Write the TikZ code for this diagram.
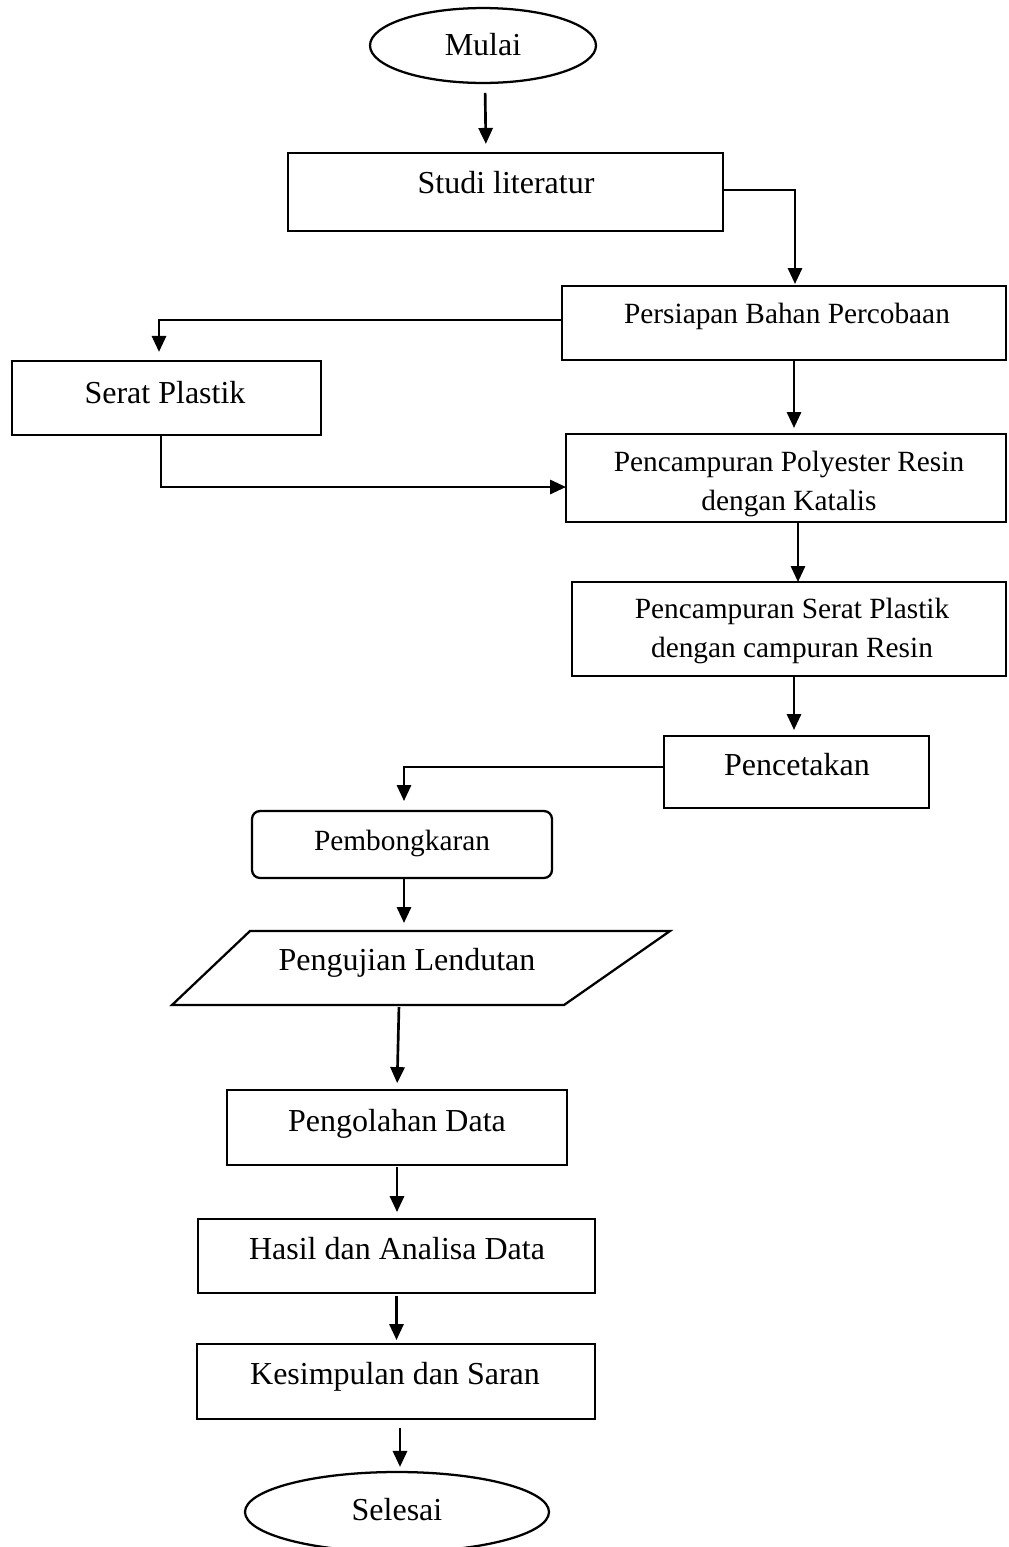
\documentclass[tikz,border=0pt]{standalone}
\usepackage{fontspec}
\setmainfont{Liberation Serif}
\usetikzlibrary{arrows.meta,calc,shapes.geometric}
\begin{document}
\begin{tikzpicture}[x=0.375pt,y=-0.375pt,
  line width=0.85pt,
  box/.style={draw, rectangle, inner sep=0pt, outer sep=0pt},
  term/.style={draw, ellipse, inner sep=0pt, outer sep=0pt},
  lbl/.style={inner sep=0pt, anchor=base, font=\fontsize{12}{14}\selectfont},
  lbls/.style={inner sep=0pt, anchor=base, font=\fontsize{11}{13}\selectfont},
  lbltwo/.style={inner sep=0pt, anchor=center, align=center, font=\fontsize{11}{14.4}\selectfont},
  arr/.style={line width=1pt, -{Triangle[length=6pt,width=5.3pt]}},
]
\useasboundingbox (0,0) rectangle (1008,1547);

% shapes
\node[term, minimum width=84.75pt, minimum height=28.1pt] (mulai) at (483,45.5) {};
\node[box, minimum width=163.1pt, minimum height=29.25pt] (studi) at (505.5,192) {};
\node[box, minimum width=166.5pt, minimum height=27.75pt] (persiapan) at (784,323) {};
\node[box, minimum width=115.9pt, minimum height=27.75pt] (serat) at (166.5,398) {};
\node[box, minimum width=165pt, minimum height=33pt] (pc1) at (786,478) {};
\node[box, minimum width=162.75pt, minimum height=35.25pt] (pc2) at (789,629) {};
\node[box, minimum width=99.4pt, minimum height=27pt] (pencetakan) at (796.5,772) {};
\node[box, rounded corners=3pt, minimum width=112.5pt, minimum height=25.1pt] (pembongkaran) at (402,844.5) {};
\draw (250,931) -- (670,931) -- (564,1005) -- (172,1005) -- cycle;
\coordinate (ptop) at (404,931);
\coordinate (pbot) at (399,1005);
\node[box, minimum width=127.5pt, minimum height=28.1pt] (pengolahan) at (397,1127.5) {};
\node[box, minimum width=148.9pt, minimum height=27.75pt] (hasil) at (396.5,1256) {};
\node[box, minimum width=149.25pt, minimum height=28.1pt] (kesimpulan) at (396,1381.5) {};
\node[term, minimum width=114pt, minimum height=30pt] (selesai) at (397,1512) {};

% labels
\node[lbl] (tmulai) at (483,55) {Mulai};
\node[lbl] (tstudi) at (506,193) {Studi literatur};
\node[lbls] (tpersiapan) at (787,323) {Persiapan Bahan Percobaan};
\node[lbl] (tserat) at (165,403) {Serat Plastik};
\node[lbltwo] (tpc1) at (789,484) {Pencampuran Polyester Resin\\dengan Katalis};
\node[lbltwo] (tpc2) at (792,631) {Pencampuran Serat Plastik\\dengan campuran Resin};
\node[lbl] (tpencetakan) at (797,775) {Pencetakan};
\node[lbls] (tpembongkaran) at (402,850) {Pembongkaran};
\node[lbl] (tpengujian) at (407,970) {Pengujian Lendutan};
\node[lbl] (tpengolahan) at (397,1131) {Pengolahan Data};
\node[lbl] (thasil) at (397,1259) {Hasil dan Analisa Data};
\node[lbl] (tkesimpulan) at (395,1384) {Kesimpulan dan Saran};
\node[lbl] (tselesai) at (397,1520) {Selesai};

% connectors
\draw[arr, shorten <=3.75pt, shorten >=3.4pt] ($(mulai.south)+(2,0)$) -- ($(mulai.south |- studi.north)+(3,0)$);
\draw[arr, shorten >=0.75pt] ($(studi.east)+(0,-2)$) -| ($(persiapan.north)+(11,0)$);
\draw[arr, shorten >=3.4pt] ($(persiapan.west)+(0,-3)$) -| ($(serat.north)+(-7.5,0)$);
\draw[arr, shorten >=2.25pt] ($(persiapan.south)+(10,0)$) -- ($(pc1.north)+(8,0)$);
\draw[arr] ($(serat.south)+(-5.5,0)$) |- ($(pc1.west)+(0,9)$);
\draw[arr] ($(pc1.south)+(12,0)$) -- ($(pc2.north)+(9,0)$);
\draw[arr, shorten >=2.25pt] ($(pc2.south)+(5,0)$) -- ($(pencetakan.north)+(-2.5,0)$);
\draw[arr, shorten >=3.75pt] ($(pencetakan.west)+(0,-5)$) -| ($(pembongkaran.north)+(2,0)$);
\draw[arr, shorten >=3pt] ($(pembongkaran.south)+(2,0)$) -- (ptop);
\draw[arr, shorten <=0.75pt, shorten >=2.6pt] (pbot) -- (pengolahan.north);
\draw[arr, shorten <=0.75pt, shorten >=2.6pt] (pengolahan.south) -- (pengolahan.south |- hasil.north);
\draw[arr, shorten <=1.1pt, shorten >=1.5pt] (hasil.south) -- (hasil.south |- kesimpulan.north);
\draw[arr, shorten <=3.4pt, shorten >=1.9pt] ($(kesimpulan.south)+(4,0)$) -- ($(kesimpulan.south |- selesai.north)+(4,0)$);
\end{tikzpicture}
\end{document}
